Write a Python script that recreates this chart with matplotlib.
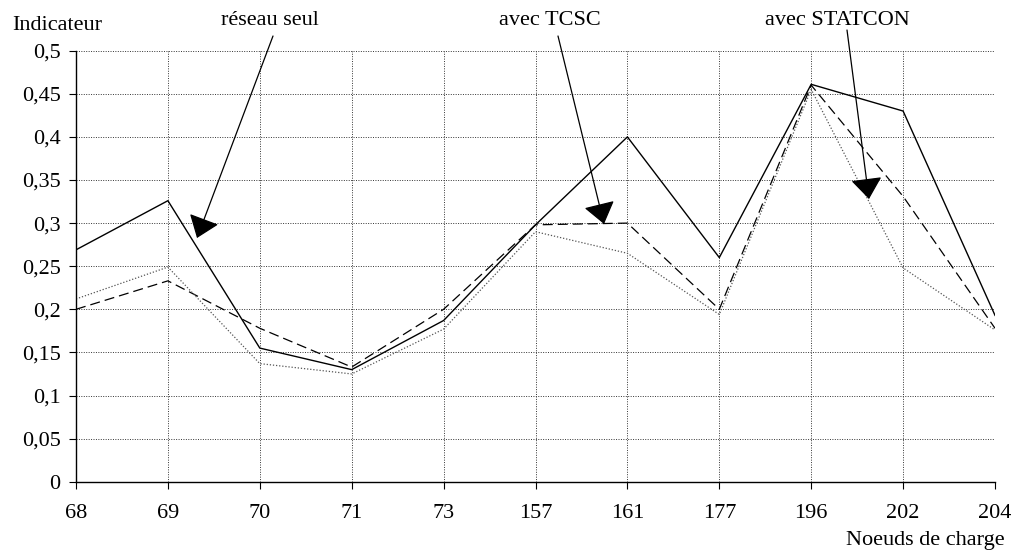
import matplotlib
matplotlib.use("Agg")
import numpy as np
from matplotlib import pyplot as plt

plt.rcParams['font.family'] = ['Liberation Serif', 'DejaVu Serif']

noeuds = ['68', '69', '70', '71', '73', '157', '161', '177', '196', '202', '204']
reseau_seul = [0.269, 0.326, 0.155, 0.130, 0.187, 0.298, 0.400, 0.260, 0.461, 0.430, 0.193]
avec_tcsc = [0.200, 0.233, 0.178, 0.133, 0.200, 0.298, 0.300, 0.200, 0.460, 0.331, 0.178]
avec_statcon = [0.212, 0.249, 0.137, 0.125, 0.177, 0.290, 0.265, 0.194, 0.455, 0.248, 0.176]

y_ticks = [0, 0.05, 0.1, 0.15, 0.2, 0.25, 0.3, 0.35, 0.4, 0.45, 0.5]

fig = plt.figure(figsize=(10.16, 5.53), dpi=100)
ax = fig.add_axes([76 / 1016, 1 - 481.7 / 553, (995 - 76) / 1016, (481.7 - 50.7) / 553])

x = np.arange(len(noeuds))
ax.plot(x, reseau_seul, color='black', lw=1.0, ls='-')
ax.plot(x, avec_tcsc, color='black', lw=0.9, ls=(0, (8, 4)))
ax.plot(x, avec_statcon, color='#555555', lw=0.9, ls=(0, (1, 1.5)))

ax.set_xlim(0, len(noeuds) - 1)
ax.set_ylim(0, 0.5)
ax.set_xticks(x)
ax.set_xticklabels(noeuds)
ax.set_yticks(y_ticks)
ax.set_yticklabels([("%g" % v).replace('.', ',') for v in y_ticks])
ax.tick_params(axis='both', labelsize=16, direction='out', length=5, width=0.8, colors='black')
ax.tick_params(axis='y', pad=6)
ax.tick_params(axis='x', pad=11)

ax.grid(True, color='#333333', ls=(0, (1, 1.5)), lw=0.7)
ax.set_axisbelow(True)
for side in ['top', 'right']:
    ax.spines[side].set_visible(False)
ax.spines['left'].set_linewidth(1.0)
ax.spines['bottom'].set_linewidth(1.0)

fig.text(12 / 1016, 1 - 30 / 553, "Indicateur", fontsize=16, va='baseline', ha='left')
fig.text(1005 / 1016, 1 - 545 / 553, "Noeuds de charge", fontsize=16, va='baseline', ha='right')

# fleches avec legendes (en pixels de la figure)
def px(xp, yp):
    return (xp / 1016, 1 - yp / 553)

arrow = dict(arrowstyle='-|>,head_length=0.6,head_width=0.45', mutation_scale=22,
             color='black', lw=0.9, shrinkA=0, shrinkB=0)
ax.annotate("", xy=px(197, 238), xycoords='figure fraction',
            xytext=px(273, 36), textcoords='figure fraction', arrowprops=arrow)
ax.annotate("", xy=px(604, 224), xycoords='figure fraction',
            xytext=px(558, 36), textcoords='figure fraction', arrowprops=arrow)
ax.annotate("", xy=px(869, 199), xycoords='figure fraction',
            xytext=px(847, 30), textcoords='figure fraction', arrowprops=arrow)

fig.text(270 / 1016, 1 - 25 / 553, "réseau seul", fontsize=16, va='baseline', ha='center')
fig.text(550 / 1016, 1 - 25 / 553, "avec TCSC", fontsize=16, va='baseline', ha='center')
fig.text(837 / 1016, 1 - 25 / 553, "avec STATCON", fontsize=16, va='baseline', ha='center')

fig.savefig("out.png", dpi=100)
